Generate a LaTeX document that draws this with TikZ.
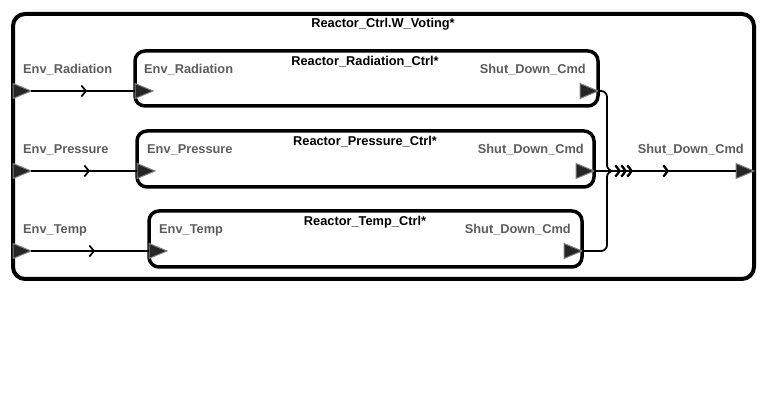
\documentclass[tikz,border=0pt]{standalone}
\usepackage{fontspec}
\setmainfont{Liberation Sans}
\usetikzlibrary{arrows.meta, decorations.markings}

\tikzset{
  blockbox/.style={draw, line width=3.5pt, rounded corners=10pt},
  wire/.style={line width=1.8pt},
  title/.style={font=\fontsize{12.8}{14}\selectfont\bfseries, text=black, inner sep=0pt},
  plabel/.style={font=\fontsize{12.8}{14}\selectfont\bfseries, text=black!64, inner sep=0pt},
  chev/.style={postaction={decorate}, decoration={markings,
      mark=at position #1 with {\arrow{Straight Barb[length=4.5pt, width=11pt, line width=1.7pt]}}}},
  port/.pic={
    \filldraw[fill=black!85, draw=black!50, line width=1pt]
      (0,-7.5) -- (18,0) -- (0,7.5) -- cycle;
  }
}

\begin{document}
\begin{tikzpicture}[x=1pt, y=-1pt]
  \useasboundingbox (0,0) rectangle (761,406);
  % blocks
  \draw[line width=4pt, rounded corners=12pt] (13,14) rectangle (754,279);
  \draw[blockbox] (135,51) rectangle (598,106);
  \draw[blockbox] (137,131) rectangle (594,187);
  \draw[blockbox] (149,211) rectangle (582,267);
  % ports
  \coordinate (inRad) at (13,91);
  \coordinate (inPres) at (13,171);
  \coordinate (inTemp) at (13,251);
  \coordinate (radIn) at (135,91);
  \coordinate (presIn) at (137,171);
  \coordinate (tempIn) at (149,251);
  \coordinate (radOut) at (580,91);
  \coordinate (presOut) at (576,171);
  \coordinate (tempOut) at (564,251);
  \coordinate (cmdOut) at (736,171);
  \foreach \p in {inRad,inPres,inTemp,radIn,presIn,tempIn,radOut,presOut,tempOut,cmdOut}
    \pic at (\p) {port};
  % wires in
  \draw[wire, chev=56pt] ([xshift=18pt]inRad) -- (radIn);
  \draw[wire, chev=59pt] ([xshift=18pt]inPres) -- (presIn);
  \draw[wire, chev=64pt] ([xshift=18pt]inTemp) -- (tempIn);
  % wires out
  \coordinate (merge) at (607,171);
  \draw[wire, rounded corners=6pt] ([xshift=18pt]radOut) -| (merge) -- ++(8,0);
  \draw[wire, rounded corners=6pt] ([xshift=18pt]tempOut) -| (merge) -- ++(8,0);
  \draw[wire, chev=27pt, chev=33pt, chev=39pt, chev=75pt] ([xshift=18pt]presOut) -- (cmdOut);
  % titles
  \node[title] (tMain) at (383,24) {Reactor\_Ctrl.W\_Voting*};
  \node[title] (tRad) at (365,62) {Reactor\_Radiation\_Ctrl*};
  \node[title] (tPres) at (365,142) {Reactor\_Pressure\_Ctrl*};
  \node[title] (tTemp) at (365,222) {Reactor\_Temp\_Ctrl*};
  % port labels
  \node[plabel, anchor=west] (lInRad) at (23,70) {Env\_Radiation};
  \node[plabel, anchor=west] (lInPres) at (23,150) {Env\_Pressure};
  \node[plabel, anchor=west] (lInTemp) at (23,230) {Env\_Temp};
  \node[plabel, anchor=west] (lRadIn) at (144,70) {Env\_Radiation};
  \node[plabel, anchor=west] (lPresIn) at (147,150) {Env\_Pressure};
  \node[plabel, anchor=west] (lTempIn) at (159,230) {Env\_Temp};
  \node[plabel, anchor=east] (lRadOut) at (586,70) {Shut\_Down\_Cmd};
  \node[plabel, anchor=east] (lPresOut) at (584,150) {Shut\_Down\_Cmd};
  \node[plabel, anchor=east] (lTempOut) at (571,230) {Shut\_Down\_Cmd};
  \node[plabel, anchor=east] (lCmdOut) at (744,150) {Shut\_Down\_Cmd};
\end{tikzpicture}
\end{document}
